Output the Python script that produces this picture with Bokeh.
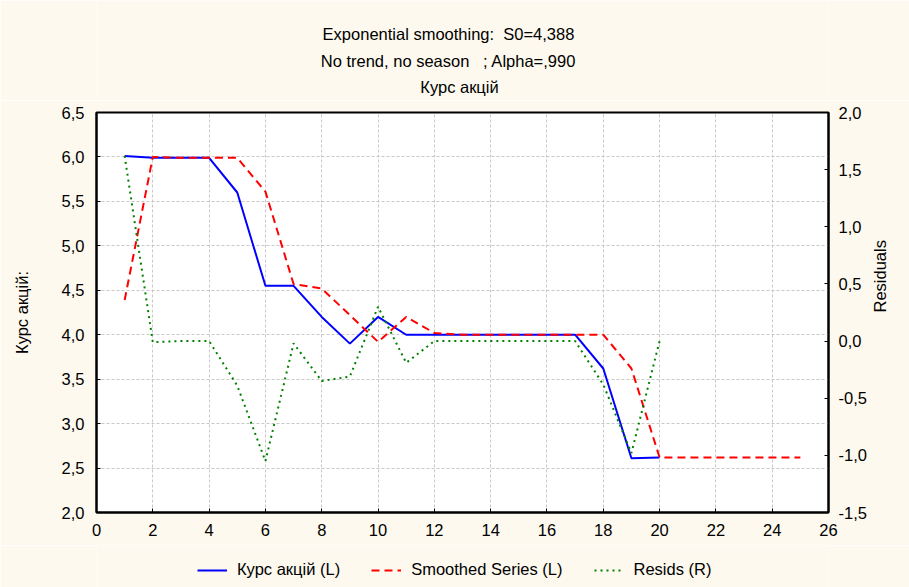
import math
from bokeh.plotting import figure
from bokeh.layouts import column
from bokeh.models import (Range1d, LinearAxis, FixedTicker, CustomJSTickFormatter,
                          Legend, LegendItem, Label)
from bokeh.embed import file_html
from bokeh.resources import INLINE

# ---- data ----
t_actual = list(range(1, 21))
kurs = [6.01, 5.99, 5.99, 5.99, 5.60, 4.55, 4.55, 4.20, 3.90, 4.20,
        4.00, 4.00, 4.00, 4.00, 4.00, 4.00, 4.00, 3.62, 2.61, 2.62]
t_smooth = list(range(1, 26))
smoothed = [4.39, 6.00, 5.99, 5.99, 5.99, 5.61, 4.57, 4.52, 4.22, 3.92,
            4.20, 4.02, 4.00, 4.00, 4.00, 4.00, 4.00, 4.00, 3.62, 2.62,
            2.62, 2.62, 2.62, 2.62, 2.62]
t_resid = list(range(1, 21))
resid = [1.62, -0.01, 0.00, 0.00, -0.39, -1.05, -0.02, -0.35, -0.31, 0.30,
         -0.19, 0.00, 0.00, 0.00, 0.00, 0.00, 0.00, -0.38, -0.98, 0.00]

x_ticks = list(range(0, 27, 2))
left_ticks = [2.0, 2.5, 3.0, 3.5, 4.0, 4.5, 5.0, 5.5, 6.0, 6.5]
right_ticks = [-1.5, -1.0, -0.5, 0.0, 0.5, 1.0, 1.5, 2.0]

title_lines = ["Exponential smoothing:\u00a0\u00a0S0=4,388",
               "No trend, no season\u00a0\u00a0\u00a0; Alpha=,990",
               "Курс акцій"]
legend_labels = ["Курс акцій (L)", "Smoothed Series (L)", "Resids (R)"]

FONT = "Liberation Sans"
FS = "16.5px"
CREAM = "#FDF9EE"
W = 909
FRAME_LEFT = 96  # the column aligns every frame with the chart's frame

BLUE = dict(line_color="#0000FF", line_width=2)
RED = dict(line_color="#FF0000", line_width=2, line_dash="8 5")
GREEN = dict(line_color="#008000", line_width=2, line_dash="2 4")

def bare(height):
    f = figure(width=W, height=height, output_backend="svg", toolbar_location=None,
               title=None, x_axis_location=None, y_axis_location=None,
               x_range=Range1d(0, 1), y_range=Range1d(0, 1), min_border=0)
    f.grid.visible = False
    f.outline_line_color = None
    f.background_fill_color = CREAM
    f.border_fill_color = CREAM
    return f

# ---- title block ----
p0 = bare(100)
for line, xc, yc in zip(title_lines, [448, 448, 459], [33, 60, 86]):
    p0.add_layout(Label(x=xc - FRAME_LEFT, y=100 - yc, x_units="screen", y_units="screen",
                        text=line, text_align="center", text_baseline="middle",
                        text_font=FONT, text_font_size=FS, text_color="black"))

# ---- main chart ----
p = figure(width=W, height=445, output_backend="svg", toolbar_location=None,
           title=None,
           x_range=Range1d(0, 26), y_range=Range1d(2.0, 6.5),
           min_border_left=96, min_border_right=81,
           min_border_top=12, min_border_bottom=33)
p.extra_y_ranges = {"res": Range1d(-1.5, 2.0)}

p.background_fill_color = "white"
p.border_fill_color = CREAM
p.outline_line_color = "black"
p.outline_line_width = 2

fmt = CustomJSTickFormatter(code="return tick.toFixed(1).replace('.', ',');")

def style_axis(ax):
    ax.axis_line_width = 2
    ax.axis_line_color = "black"
    ax.major_tick_in = 4
    ax.major_tick_out = 0
    ax.minor_tick_line_color = None
    ax.major_tick_line_color = "black"
    ax.major_tick_line_width = 1
    ax.major_label_text_font = FONT
    ax.major_label_text_font_size = FS
    ax.major_label_text_color = "black"
    ax.axis_label_text_font = FONT
    ax.axis_label_text_font_size = FS
    ax.axis_label_text_font_style = "normal"
    ax.axis_label_text_color = "black"

xa = p.xaxis[0]
xa.ticker = FixedTicker(ticks=x_ticks)
style_axis(xa)
xa.major_label_standoff = 11

ya = p.yaxis[0]
ya.ticker = FixedTicker(ticks=left_ticks)
ya.formatter = fmt
ya.axis_label = "Курс акцій:"
style_axis(ya)
ya.major_label_standoff = 12
ya.axis_label_standoff = 28

ra = LinearAxis(y_range_name="res", ticker=FixedTicker(ticks=right_ticks),
                formatter=fmt, axis_label="Residuals")
style_axis(ra)
ra.major_label_standoff = 10
ra.axis_label_standoff = 10
ra.axis_label_orientation = math.pi / 2
p.add_layout(ra, "right")

p.xgrid.ticker = FixedTicker(ticks=x_ticks)
p.ygrid.ticker = FixedTicker(ticks=left_ticks)
for g in (p.xgrid[0], p.ygrid[0]):
    g.grid_line_color = "#C8C8C8"
    g.grid_line_dash = "3 2"
    g.grid_line_width = 1

p.line(t_actual, kurs, **BLUE)
p.line(t_smooth, smoothed, **RED)
p.line(t_resid, resid, y_range_name="res", **GREEN)

# ---- legend strip ----
p2 = bare(42)
p2.x_range = Range1d(100, 101)  # series drawn out of view; only their legend shows
l1 = p2.line(t_actual, kurs, **BLUE)
l2 = p2.line(t_smooth, smoothed, **RED)
l3 = p2.line(t_resid, resid, **GREEN)
legend = Legend(items=[LegendItem(label=legend_labels[0], renderers=[l1]),
                       LegendItem(label=legend_labels[1], renderers=[l2]),
                       LegendItem(label=legend_labels[2], renderers=[l3])],
                orientation="horizontal", location=(195 - FRAME_LEFT, 6),
                background_fill_alpha=0, border_line_alpha=0,
                label_text_font=FONT, label_text_font_size=FS,
                label_text_color="black", label_height=18, glyph_height=18,
                glyph_width=30, label_standoff=10, spacing=31,
                margin=0, padding=2)
p2.add_layout(legend, "center")

layout = column(p0, p, p2, spacing=0)
open("out.html", "w").write(file_html(layout, INLINE))
